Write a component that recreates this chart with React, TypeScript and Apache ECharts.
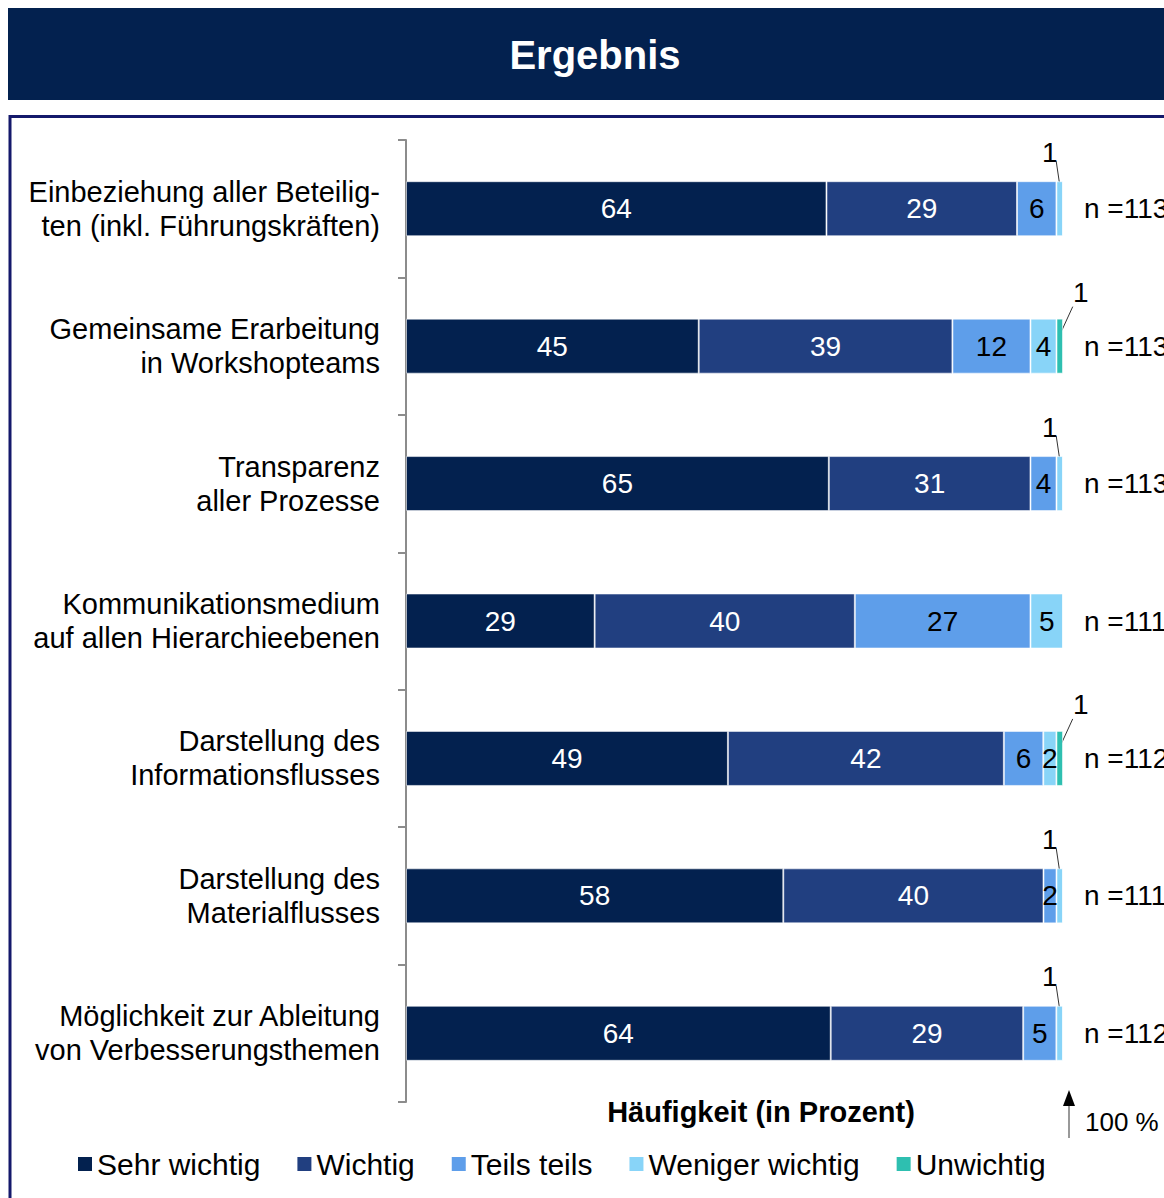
import React, { useEffect, useRef } from "react";
import * as echarts from "echarts";

const categories = [
  "Einbeziehung aller Beteilig-\nten (inkl. Führungskräften)",
  "Gemeinsame Erarbeitung\nin Workshopteams",
  "Transparenz\naller Prozesse",
  "Kommunikationsmedium\nauf allen Hierarchieebenen",
  "Darstellung des\nInformationsflusses",
  "Darstellung des\nMaterialflusses",
  "Möglichkeit zur Ableitung\nvon Verbesserungsthemen",
];
const seriesNames = ["Sehr wichtig", "Wichtig", "Teils teils", "Weniger wichtig", "Unwichtig"];
const sehrWichtig = [64, 45, 65, 29, 49, 58, 64];
const wichtig = [29, 39, 31, 40, 42, 40, 29];
const teilsTeils = [6, 12, 4, 27, 6, 2, 5];
const wenigerWichtig = [1, 4, 1, 5, 2, 1, 1];
const unwichtig = [0, 1, 0, 0, 1, 0, 0];
const nValues = [113, 113, 113, 111, 112, 111, 112];

const colors = ["#03214F", "#213F80", "#5E9EEA", "#88D4F8", "#2EBFB0"];
const labelColors = ["#ffffff", "#ffffff", "#000000", "#000000", "#000000"];
const FONT = "'Liberation Sans', Arial, sans-serif";

export default function App() {
  const ref = useRef<HTMLDivElement>(null);
  useEffect(() => {
    if (!ref.current) return;
    const chart = echarts.init(ref.current, null, { renderer: "svg" });
    const raw = [sehrWichtig, wichtig, teilsTeils, wenigerWichtig, unwichtig];
    const sums = categories.map((_, i) => raw.reduce((s, arr) => s + arr[i], 0));
    const norm = raw.map((arr) => arr.map((v, i) => (v / sums[i]) * 100));

    const annData: number[][] = [];
    const annText: string[] = [];
    categories.forEach((_, i) => {
      let cum = 0;
      raw.forEach((arr, s) => {
        const w = norm[s][i];
        if (arr[i] === 1) {
          annData.push([cum + w / 2, i, annText.length, s === 4 ? 1 : -1]);
          annText.push(String(arr[i]));
        }
        cum += w;
      });
    });

    const barSeries = raw.map((arr, s) => ({
      name: seriesNames[s],
      type: "bar",
      stack: "total",
      barWidth: 55,
      data: norm[s],
      itemStyle: { color: colors[s], borderColor: "rgba(255,255,255,0.55)", borderWidth: 1 },
      label: {
        show: true,
        position: "inside",
        color: labelColors[s],
        fontSize: 28,
        fontFamily: FONT,
        formatter: (p: any) => (arr[p.dataIndex] >= 2 ? String(arr[p.dataIndex]) : ""),
      },
      emphasis: { disabled: true },
    }));

    chart.setOption({
      animation: false,
      textStyle: { fontFamily: FONT },
      grid: { left: 398, right: 1156 - 1055, top: 132, bottom: 1190 - 1094, containLabel: false },
      xAxis: { type: "value", min: 0, max: 100, show: false },
      yAxis: {
        type: "category",
        inverse: true,
        data: categories,
        axisLine: { show: true, lineStyle: { color: "#8c8c8c", width: 2 } },
        axisTick: { show: true, length: 8, lineStyle: { color: "#8c8c8c", width: 2 } },
        axisLabel: { color: "#000", fontSize: 29, lineHeight: 34, margin: 26, fontFamily: FONT, padding: [0, 0, 8, 0] },
      },
      legend: {
        data: seriesNames,
        left: 70,
        top: 1141,
        padding: 0,
        icon: "rect",
        itemWidth: 14,
        itemHeight: 14,
        itemGap: 37,
        itemStyle: { borderWidth: 0 },
        textStyle: { fontSize: 30, color: "#000", fontFamily: FONT },
      },
      graphic: [
        { type: "rect", shape: { x: 0, y: 0, width: 1156, height: 92 }, style: { fill: "#03214F" } },
        {
          type: "text",
          x: 587,
          y: 47,
          style: { text: "Ergebnis", fill: "#fff", font: `bold 40px ${FONT}`, align: "center", verticalAlign: "middle" },
        },
        {
          type: "rect",
          shape: { x: 2, y: 108.5, width: 1300, height: 1300 },
          style: { fill: "none", stroke: "#14196b", lineWidth: 3 },
        },
        {
          type: "text",
          x: 753,
          y: 1104,
          style: { text: "Häufigkeit (in Prozent)", fill: "#000", font: `bold 29px ${FONT}`, align: "center", verticalAlign: "middle" },
        },
        { type: "line", shape: { x1: 1061, y1: 1130, x2: 1061, y2: 1095 }, style: { stroke: "#999", lineWidth: 2 } },
        { type: "polygon", shape: { points: [[1061, 1082], [1055, 1098], [1067, 1098]] }, style: { fill: "#000" } },
        {
          type: "text",
          x: 1077,
          y: 1114,
          style: { text: "100 %", fill: "#000", font: `26px ${FONT}`, align: "left", verticalAlign: "middle" },
        },
      ],
      series: [
        ...barSeries,
        {
          type: "custom",
          silent: true,
          data: nValues.map((n, i) => [100, i, n]),
          renderItem: (params: any, api: any) => {
            const p = api.coord([api.value(0), api.value(1)]);
            return {
              type: "text",
              x: p[0] + 21,
              y: p[1],
              style: { text: "n =" + api.value(2), fill: "#000", font: `28px ${FONT}`, align: "left", verticalAlign: "middle" },
            };
          },
        },
        {
          type: "custom",
          silent: true,
          data: annData,
          renderItem: (params: any, api: any) => {
            const p = api.coord([api.value(0), api.value(1)]);
            const top = p[1] - 27.5;
            const dir = api.value(3);
            const txt = annText[api.value(2)];
            if (dir > 0) {
              return {
                type: "group",
                children: [
                  { type: "line", shape: { x1: p[0] + 2, y1: top + 12, x2: p[0] + 13, y2: top - 12 }, style: { stroke: "#333", lineWidth: 1 } },
                  { type: "text", x: p[0] + 21, y: top - 26, style: { text: txt, fill: "#000", font: `28px ${FONT}`, align: "center", verticalAlign: "middle" } },
                ],
              };
            }
            return {
              type: "group",
              children: [
                { type: "line", shape: { x1: p[0] + 0.5, y1: top + 7, x2: p[0] - 3.5, y2: top - 20 }, style: { stroke: "#333", lineWidth: 1 } },
                { type: "text", x: p[0] - 10, y: top - 29, style: { text: txt, fill: "#000", font: `28px ${FONT}`, align: "center", verticalAlign: "middle" } },
              ],
            };
          },
        },
      ],
    });
    return () => chart.dispose();
  }, []);
  return <div ref={ref} style={{ position: "absolute", left: 8, top: 8, width: 1156, height: 1190 }} />;
}
